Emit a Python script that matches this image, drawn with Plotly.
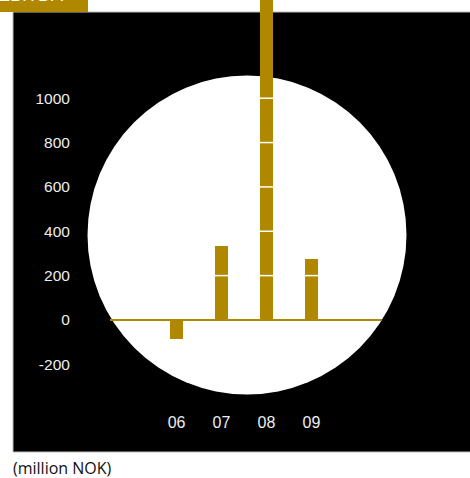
import plotly.graph_objects as go

years = ["06", "07", "08", "09"]
values = [-85, 332, 1480, 273]
y_ticks = [-200, 0, 200, 400, 600, 800, 1000]
y_tick_labels = ["-200", "0", "200", "400", "600", "800", "1000"]

GOLD = "#B08800"
W, H = 470, 478
L, R, T, B = 110, 382, 0, 400  # plot area pixels

def px(x):
    return (x - L) / (R - L)

def py(y):
    return (B - y) / (B - T)

xs = list(range(len(years)))
bar_w = 0.29

fig = go.Figure()
fig.add_trace(go.Bar(x=xs, y=values, marker=dict(color=GOLD, line=dict(width=0)),
                     width=bar_w, hoverinfo="skip"))

shapes = [
    dict(type="rect", xref="paper", yref="paper", x0=px(13), x1=px(480), y0=py(452), y1=py(12),
         fillcolor="black", line=dict(color="#bbbbbb", width=1), layer="below"),
    dict(type="circle", xref="paper", yref="paper", x0=px(87.5), x1=px(406.5), y0=py(394.5), y1=py(75.5),
         fillcolor="white", line=dict(width=0), layer="below"),
    dict(type="rect", xref="paper", yref="paper", x0=px(-5), x1=px(88), y0=py(12), y1=py(-5),
         fillcolor=GOLD, line=dict(width=0), layer="above"),
]
for i, v in zip(xs, values):
    for t in y_ticks:
        if 0 < t < v:
            shapes.append(dict(type="line", xref="x", yref="y", x0=i - bar_w / 2, x1=i + bar_w / 2,
                               y0=t, y1=t, line=dict(color="white", width=1.5), layer="above"))

fig.update_layout(
    width=W, height=H,
    margin=dict(l=L, r=W - R, t=T, b=H - B),
    paper_bgcolor="white", plot_bgcolor="rgba(0,0,0,0)",
    showlegend=False, bargap=0,
    shapes=shapes,
    font=dict(family="Liberation Sans, Arial, sans-serif"),
    xaxis=dict(range=[-1.48, 4.57], tickvals=xs, ticktext=years, showgrid=False, zeroline=False,
               showline=False, ticks="outside", ticklen=8, tickcolor="rgba(0,0,0,0)",
               tickfont=dict(color="#eeeeee", size=16), fixedrange=True),
    yaxis=dict(range=[-361, 1443], tickvals=y_ticks, ticktext=y_tick_labels, showgrid=False,
               zeroline=True, zerolinecolor=GOLD, zerolinewidth=1.5, showline=False,
               ticks="outside", ticklen=36, tickcolor="rgba(0,0,0,0)",
               tickfont=dict(color="#eeeeee", size=15.5), fixedrange=True),
    annotations=[
        dict(text="(million NOK)", xref="paper", yref="paper", x=px(11), y=py(468),
             xanchor="left", yanchor="middle", showarrow=False,
             font=dict(family="Open Sans, sans-serif", size=16, color="#111111")),
        dict(text="EBITDA", xref="paper", yref="paper", x=px(-4), y=py(7),
             xanchor="left", yanchor="bottom", showarrow=False,
             font=dict(family="Liberation Sans, Arial, sans-serif", size=18, color="white")),
    ],
)

fig.write_html("out.html")
